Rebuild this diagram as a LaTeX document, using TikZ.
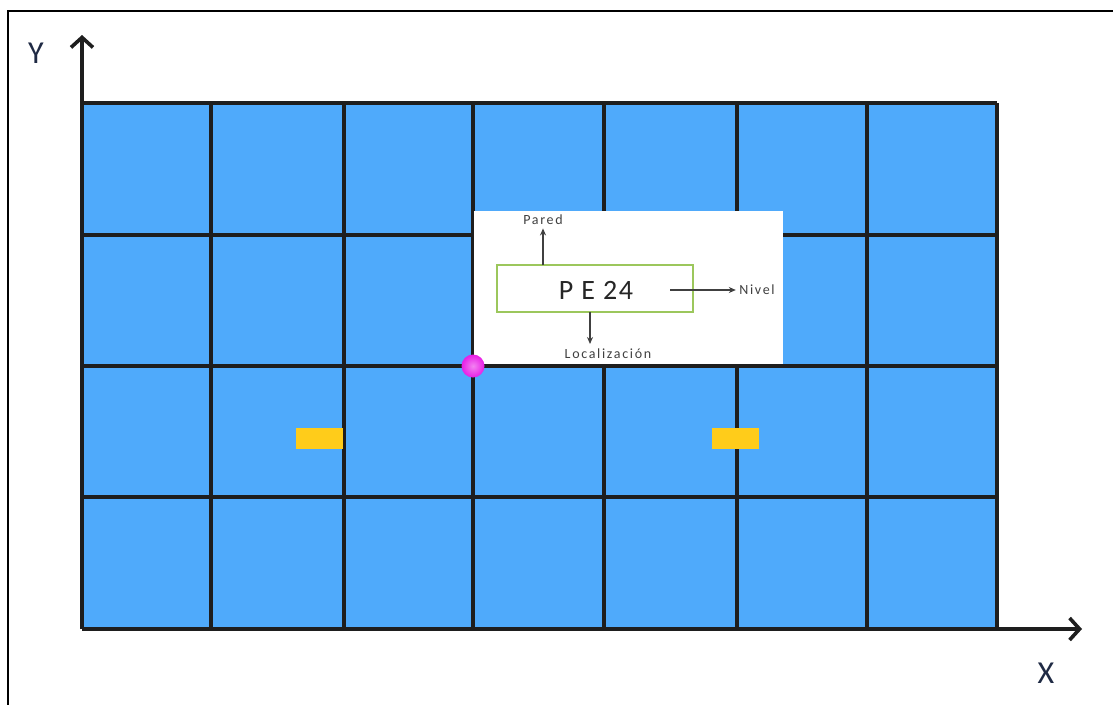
\documentclass[tikz,border=0pt]{standalone}
\usepackage{fontspec}
\setmainfont{Carlito}
\usetikzlibrary{arrows.meta}
\definecolor{cellblue}{HTML}{4FAAFB}
\definecolor{gridline}{HTML}{1E1E1E}
\definecolor{tagyellow}{HTML}{FFCC1A}
\definecolor{dotmag}{HTML}{E81EE6}
\definecolor{boxgreen}{HTML}{9CC75C}
\definecolor{labgray}{HTML}{404040}
\definecolor{axtext}{HTML}{1F2A44}
\tikzset{
  gridpen/.style={draw=gridline, line width=3.3pt},
  axispen/.style={draw=gridline, line width=3.6pt, -{Straight Barb[length=10pt,width=22pt,line width=3.6pt]}},
  smallarrow/.style={draw=labgray, line width=1.3pt, -{Stealth[length=7pt,width=6pt]}},
  smalllab/.style={text=labgray, font=\fontsize{14}{15}\selectfont\addfontfeatures{LetterSpace=12}},
  axislab/.style={text=axtext, font=\fontsize{32}{34}\selectfont},
  tag/.style={fill=tagyellow, draw=none, minimum width=47pt, minimum height=21pt, inner sep=0pt}
}
\begin{document}
\begin{tikzpicture}[x=1pt,y=-1pt]
\useasboundingbox (0,0) rectangle (1113,704);
% outer frame (left and top)
\draw[line width=2.2pt, black] (8,710) -- (8,11) -- (1120,11);
% cells
\fill[cellblue] (82,103) rectangle (997,629);
% grid lines
\foreach \x in {211,344,473,604,737,867,997}
  \draw[gridpen] (\x,103) -- (\x,629);
\foreach \y in {103,235,366,497}
  \draw[gridpen] (82,\y) -- (997,\y);
% axes
\coordinate (origin) at (82,629);
\coordinate (ytip) at (82,35);
\coordinate (xtip) at (1082,629);
\draw[axispen] (origin) -- (ytip);
\draw[axispen] (origin) -- (xtip);
\node[axislab] (ylab) at (36,53) {Y};
\node[axislab] (xlab) at (1046,673) {X};
% yellow tags
\node[tag] (tag1) at (319.5,438.5) {};
\node[tag] (tag2) at (735.5,438.5) {};
% legend box
\fill[white] (474,211) rectangle (783,364);
\node[draw=boxgreen, line width=1.4pt, minimum width=196pt, minimum height=47pt, inner sep=0pt] (code) at (595,288.5) {};
\node[text=black!85, font=\fontsize{28}{30}\selectfont\addfontfeatures{LetterSpace=6}] (codetxt) at (596,290) {P E 24};
\node[smalllab] (pared) at (543,220) {Pared};
\node[smalllab] (nivel) at (757,290) {Nivel};
\node[smalllab] (loc) at (608,354) {Localización};
\coordinate (parstart) at (543,265);
\coordinate (nivstart) at (670,290);
\coordinate (locstart) at (590,312);
\coordinate (locend) at (590,344);
\draw[smallarrow] (parstart) -- (pared.south);
\draw[smallarrow] (nivstart) -- (nivel.west);
\draw[smallarrow] (locstart) -- (locend);
% magenta dot
\shade[inner color=dotmag!55!white, outer color=dotmag] (473,366) circle (11.5);
\node[circle, minimum size=23pt, inner sep=0pt] (dot) at (473,366) {};
\end{tikzpicture}
\end{document}
